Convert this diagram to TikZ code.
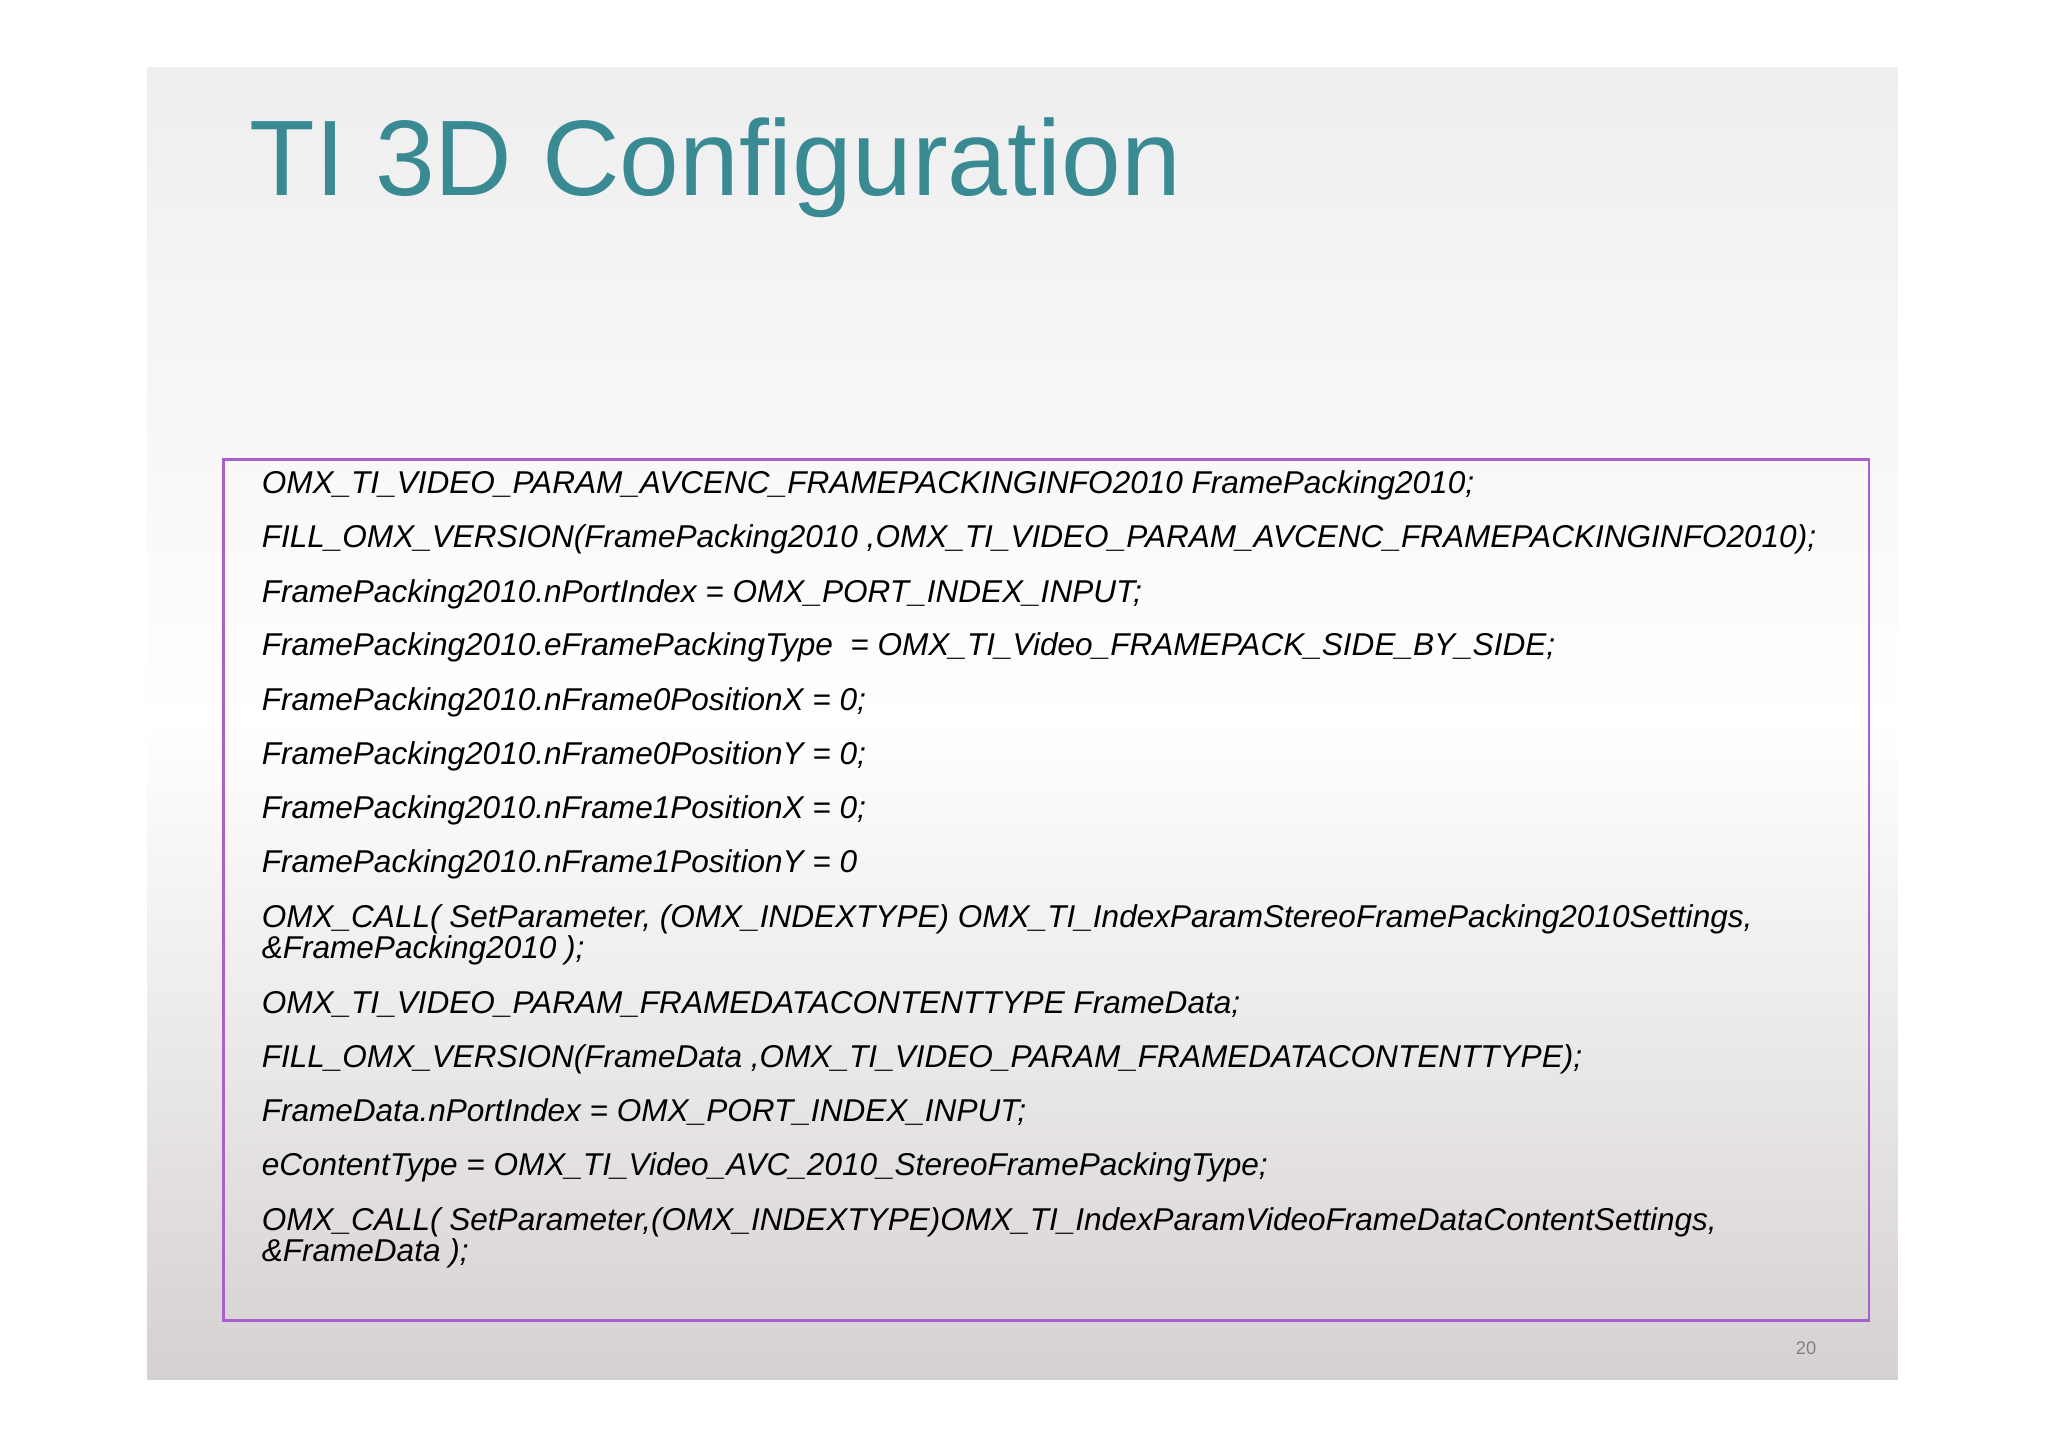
\documentclass[tikz,border=0pt]{standalone}
\usepackage{fontspec}
\setmainfont{Liberation Sans}
\definecolor{titleteal}{HTML}{3A8A94}
\definecolor{boxpurple}{HTML}{A860D0}
\definecolor{bgtop}{HTML}{EEEEEE}
\definecolor{bgbot}{HTML}{D6D1D1}
\begin{document}
\begin{tikzpicture}[x=0.5pt,y=-0.5pt,
  code/.style={anchor=base west,inner sep=0pt,font=\fontsize{12.08}{14.5}\selectfont\itshape,text=black,align=left}]
\useasboundingbox (0,0) rectangle (1568,1108);
\fill[white] (0,0) rectangle (1568,1108);
\shade[top color=bgtop,bottom color=bgbot,middle color=white] (113,52) rectangle (1453,1056);
\node[anchor=base west,inner sep=0pt,text=titleteal,font=\fontsize{41.1}{46}\selectfont] (title) at (191,150) {TI 3D Configuration};
\draw[boxpurple,line width=1pt] (171,352) rectangle (1431,1011);
\node[code] (l1) at (200,378) {OMX\_TI\_VIDEO\_PARAM\_AVCENC\_FRAMEPACKINGINFO2010 FramePacking2010;};
\node[code] (l2) at (200,419) {FILL\_OMX\_VERSION(FramePacking2010 ,OMX\_TI\_VIDEO\_PARAM\_AVCENC\_FRAMEPACKINGINFO2010);};
\node[code] (l3) at (200,461) {FramePacking2010.nPortIndex = OMX\_PORT\_INDEX\_INPUT;};
\node[code] (l4) at (200,502) {FramePacking2010.eFramePackingType \ = OMX\_TI\_Video\_FRAMEPACK\_SIDE\_BY\_SIDE;};
\node[code] (l5) at (200,544) {FramePacking2010.nFrame0PositionX = 0;};
\node[code] (l6) at (200,585) {FramePacking2010.nFrame0PositionY = 0;};
\node[code] (l7) at (200,627) {FramePacking2010.nFrame1PositionX = 0;};
\node[code] (l8) at (200,668) {FramePacking2010.nFrame1PositionY = 0};
\node[code] (l9) at (200,710) {OMX\_CALL( SetParameter, (OMX\_INDEXTYPE) OMX\_TI\_IndexParamStereoFramePacking2010Settings,};
\node[code] (l9b) at (200,734) {\&FramePacking2010 );};
\node[code] (l10) at (200,776) {OMX\_TI\_VIDEO\_PARAM\_FRAMEDATACONTENTTYPE FrameData;};
\node[code] (l11) at (200,817) {FILL\_OMX\_VERSION(FrameData ,OMX\_TI\_VIDEO\_PARAM\_FRAMEDATACONTENTTYPE);};
\node[code] (l12) at (200,859) {FrameData.nPortIndex = OMX\_PORT\_INDEX\_INPUT;};
\node[code] (l13) at (200,900) {eContentType = OMX\_TI\_Video\_AVC\_2010\_StereoFramePackingType;};
\node[code] (l14) at (200,942) {OMX\_CALL( SetParameter,(OMX\_INDEXTYPE)OMX\_TI\_IndexParamVideoFrameDataContentSettings,};
\node[code] (l14b) at (200,966) {\&FrameData );};
\node[anchor=base east,inner sep=0pt,text=gray,font=\fontsize{7}{8}\selectfont] (pg) at (1391,1037) {20};
\end{tikzpicture}
\end{document}
